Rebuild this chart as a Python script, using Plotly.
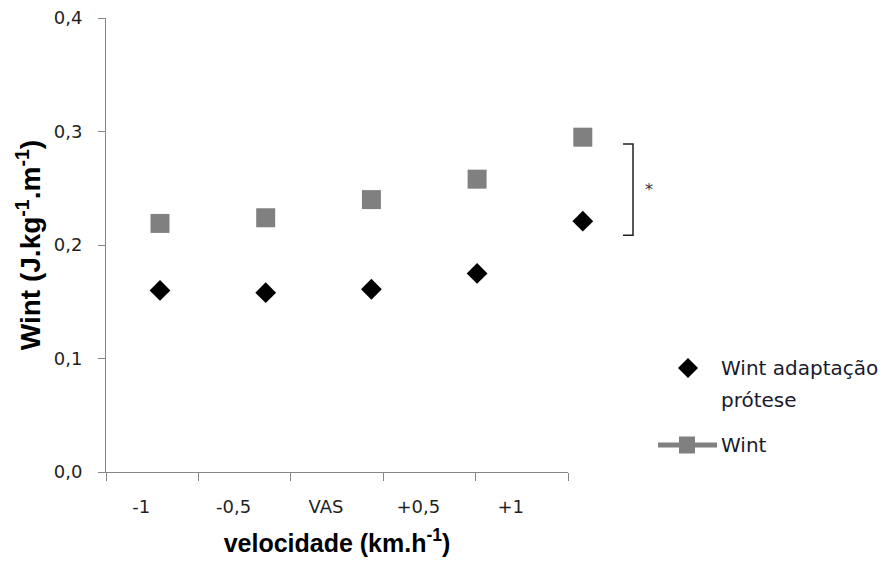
import plotly.graph_objects as go

# Categorias de velocidade (eixo x)
categorias = ["-1", "-0,5", "VAS", "+0,5", "+1"]

# Trabalho interno (J.kg-1.m-1) por condição
wint_adaptacao_protese = [0.160, 0.158, 0.161, 0.175, 0.221]
wint = [0.219, 0.224, 0.240, 0.258, 0.295]

# Marcas do eixo y
y_ticks = [0.0, 0.1, 0.2, 0.3, 0.4]

# Intervalo da chave de significância (entre as duas séries em +1)
chave_y = [0.2085, 0.289]

W, H = 892, 565
ML, MR, MT, MB = 106, 192, 18, 93
PW = W - ML - MR
PH = H - MT - MB
AXIS_END = 568  # fim da linha do eixo x


def px_x(p):
    return (p - ML) / PW


def px_y(p):
    return (H - MB - p) / PH


fig = go.Figure()

# traço invisível que ancora as categorias no eixo x visível
fig.add_trace(go.Scatter(x=categorias, y=wint, xaxis="x2", mode="none",
                         showlegend=False, hoverinfo="skip"))

fig.add_trace(go.Scatter(
    x=categorias, y=wint_adaptacao_protese, xaxis="x", mode="markers",
    name="Wint adaptação prótese",
    marker=dict(symbol="diamond", size=16, color="black"),
    cliponaxis=False, showlegend=False))

fig.add_trace(go.Scatter(
    x=categorias, y=wint, xaxis="x", mode="markers", name="Wint",
    marker=dict(symbol="square", size=19, color="#808080"),
    cliponaxis=False, showlegend=False))

tick_font = dict(family="DejaVu Sans", size=18, color="#1f1f1f")
legend_font = dict(family="DejaVu Sans", size=20, color="#1a1a2e")

# eixo dos marcadores: posição 0 em 160 px, 105,7 px por categoria
x_lo = (ML - 160) / 105.7
x_hi = (ML + PW - 160) / 105.7

fig.update_layout(
    width=W, height=H,
    margin=dict(l=ML, r=MR, t=MT, b=MB),
    paper_bgcolor="white", plot_bgcolor="rgba(0,0,0,0)",
    separators=",.",
    showlegend=False,
    xaxis=dict(
        type="category", categoryarray=categorias, anchor="y",
        domain=[0, 1], range=[x_lo, x_hi], visible=False,
    ),
    xaxis2=dict(
        type="category", categoryarray=categorias, range=[-0.5, 4.5],
        domain=[0, px_x(AXIS_END)], anchor="y",
        showline=True, linecolor="#868686", linewidth=1,
        ticks="outside", tickson="boundaries", ticklen=8, tickcolor="#868686",
        showgrid=False, zeroline=False, tickfont=tick_font,
        ticklabelshift=-11, ticklabelstandoff=18,
        title=dict(text="<b>velocidade (km.h<sup>-1</sup>)</b>",
                   font=dict(family="Liberation Sans", size=25, color="#000"),
                   standoff=18),
        automargin=False,
    ),
    yaxis=dict(
        range=[0, 0.4], tickvals=y_ticks, tickformat=".1f", anchor="x",
        showline=True, linecolor="#868686", linewidth=1,
        ticks="outside", ticklen=7, tickcolor="#868686",
        showgrid=False, zeroline=False, tickfont=tick_font,
        ticklabelstandoff=12,
        title=dict(text="<b>Wint (J.kg<sup>-1</sup>.m<sup>-1</sup>)</b>",
                   font=dict(family="Liberation Sans", size=28, color="#000"),
                   standoff=4),
        automargin=False,
    ),
)

# chave de significância
x_in, x_out = px_x(623), px_x(633)
fig.add_shape(type="path", xref="paper", yref="y",
              path=(f"M {x_in},{chave_y[1]} L {x_out},{chave_y[1]} "
                    f"L {x_out},{chave_y[0]} L {x_in},{chave_y[0]}"),
              line=dict(color="#222222", width=1.5))
fig.add_annotation(x=px_x(655), y=sum(chave_y) / 2, xref="paper",
                   yref="y", text="*", showarrow=False,
                   font=dict(family="DejaVu Sans", size=16, color="#333344"))

# legenda desenhada à direita do gráfico
lx, ly1, ly2 = px_x(688), px_y(368), px_y(445)
fig.add_shape(type="path", xref="paper", yref="paper",
              xsizemode="pixel", ysizemode="pixel", xanchor=lx, yanchor=ly1,
              path="M -10,0 L 0,10 L 10,0 L 0,-10 Z",
              fillcolor="black", line=dict(color="black", width=0))
fig.add_shape(type="line", xref="paper", yref="paper",
              x0=px_x(658), x1=px_x(717), y0=ly2, y1=ly2,
              line=dict(color="#808080", width=5))
fig.add_shape(type="rect", xref="paper", yref="paper",
              xsizemode="pixel", ysizemode="pixel", xanchor=px_x(687),
              yanchor=ly2, x0=-8, x1=8, y0=-8.5, y1=8.5,
              fillcolor="#808080", line=dict(width=0))

tx = px_x(719)
fig.add_annotation(x=tx, y=px_y(368), xref="paper", yref="paper",
                   xanchor="left", yanchor="middle", showarrow=False,
                   text="Wint adaptação", font=legend_font)
fig.add_annotation(x=tx, y=px_y(400), xref="paper", yref="paper",
                   xanchor="left", yanchor="middle", showarrow=False,
                   text="prótese", font=legend_font)
fig.add_annotation(x=tx, y=ly2, xref="paper", yref="paper",
                   xanchor="left", yanchor="middle", showarrow=False,
                   text="Wint", font=legend_font)

fig.write_html("out.html")
